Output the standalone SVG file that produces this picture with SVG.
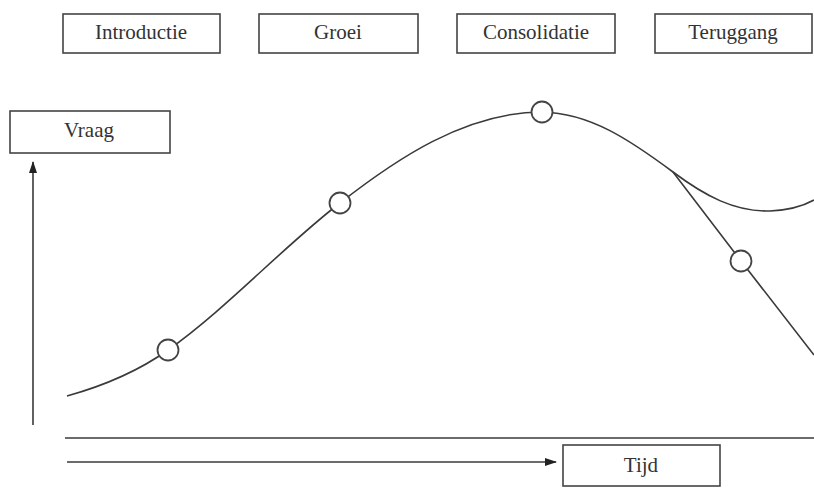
<svg xmlns="http://www.w3.org/2000/svg" width="814" height="488" viewBox="0 0 814 488">
<style>
.box{fill:#fff;stroke:#444;stroke-width:1.6}
.lbl{font-family:"Liberation Serif","DejaVu Serif",serif;font-size:21px;fill:#333;text-anchor:middle}
.ln{fill:none;stroke:#3a3a3a;stroke-width:1.6}
.dot{fill:#fff;stroke:#444;stroke-width:1.8}
</style>
<defs>
<marker id="ah" markerWidth="12" markerHeight="8" refX="11" refY="4" orient="auto" markerUnits="userSpaceOnUse">
<path d="M0,0 L12,4 L0,8 Z" fill="#222"/>
</marker>
</defs>
<rect width="814" height="488" fill="#fff"/>
<g id="introductie"><rect class="box" x="63" y="14" width="157" height="39"/><text class="lbl" x="141" y="39">Introductie</text></g>
<g id="groei"><rect class="box" x="259" y="14" width="159" height="39"/><text class="lbl" x="338" y="39">Groei</text></g>
<g id="consolidatie"><rect class="box" x="457" y="14" width="158" height="39"/><text class="lbl" x="536" y="39">Consolidatie</text></g>
<g id="teruggang"><rect class="box" x="655" y="14" width="157" height="39"/><text class="lbl" x="733" y="39">Teruggang</text></g>
<g id="vraag"><rect class="box" x="10" y="111" width="160" height="42"/><text class="lbl" x="89" y="137">Vraag</text></g>
<g id="tijd"><rect class="box" x="563" y="445" width="157" height="41"/><text class="lbl" x="641" y="472">Tijd</text></g>
<g id="connectors">
<line class="ln" x1="33" y1="425" x2="33" y2="162" marker-end="url(#ah)"/>
<line class="ln" x1="65" y1="438" x2="814" y2="438"/>
<line class="ln" x1="67" y1="462" x2="556" y2="462" marker-end="url(#ah)"/>
<path class="ln" d="M67,396 C110,384 140,370 168,350 C225,310 285,245 340,203 C395,160 465,112 542,112 C590,113 630,140 673,172 C705,196 735,212 770,211 C790,210 805,205 814,200"/>
<path class="ln" d="M673,172 L741,261 L814,355"/>
</g>
<g id="points">
<circle class="dot" cx="168" cy="350" r="10.5"/>
<circle class="dot" cx="340" cy="203" r="10.5"/>
<circle class="dot" cx="542" cy="112" r="10.5"/>
<circle class="dot" cx="741" cy="261" r="10.5"/>
</g>
</svg>
